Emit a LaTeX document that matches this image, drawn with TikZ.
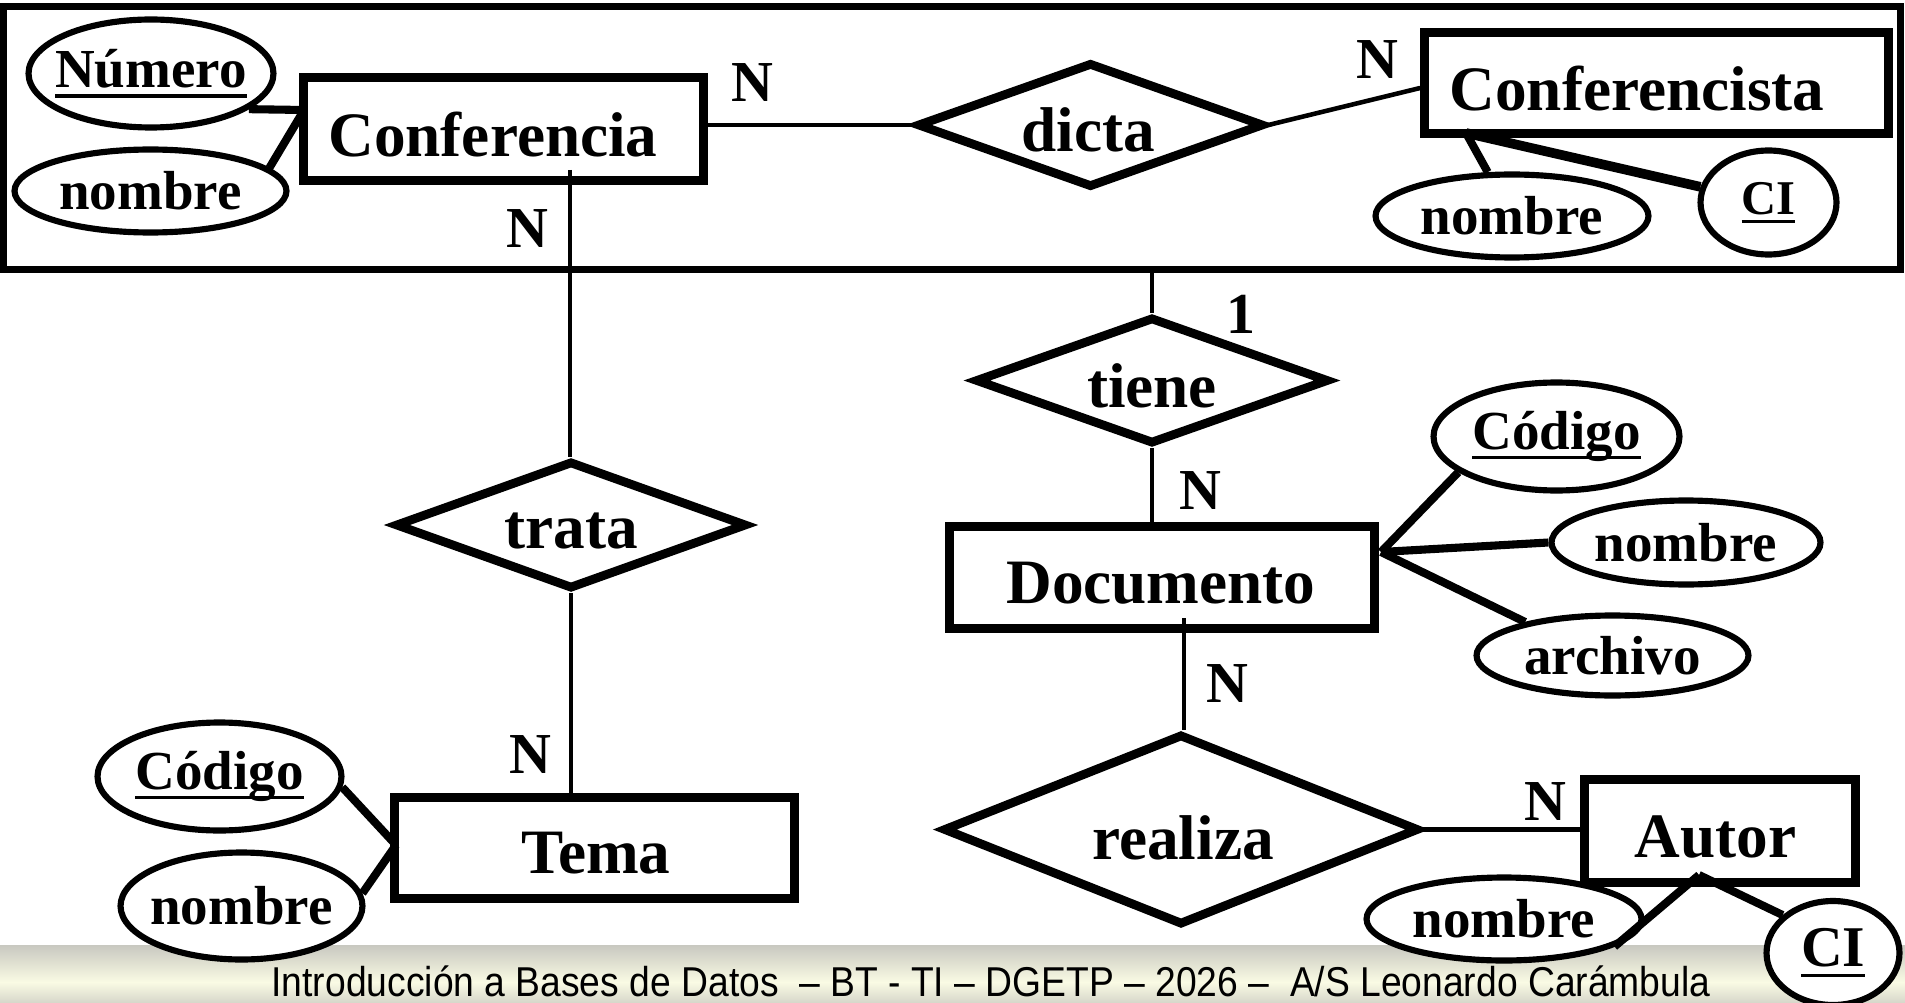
\documentclass[tikz,border=0pt]{standalone}
\usepackage{fontspec}
\usepackage{graphicx}
\setmainfont{Liberation Serif}
\newfontfamily\footfam{Liberation Sans}
\usetikzlibrary{shapes.geometric,calc}
\newcommand\entfont{\bfseries\fontsize{36}{40}\selectfont}
\newcommand\attfont{\bfseries\fontsize{31.3}{36}\selectfont}
\newcommand\lblfont{\bfseries\fontsize{33}{36}\selectfont}
\newsavebox\ulbox
\newcommand\ulx[1]{\sbox\ulbox{#1}\rlap{\rule[-0.18em]{\wd\ulbox}{0.06em}}\usebox\ulbox}
\newcommand\ZW[1]{\makebox[0pt][c]{#1}}
\definecolor{bandA}{RGB}{200,200,192}
\definecolor{bandB}{RGB}{250,251,228}
\definecolor{bandC}{RGB}{214,214,202}
\tikzset{
  ent/.style={draw, rectangle, line width=5pt, inner sep=0pt, fill=white},
  rel/.style={draw, diamond, line width=5pt, inner sep=0pt, fill=white},
  att/.style={draw, ellipse, line width=3.5pt, inner sep=0pt, fill=white, font=\attfont},
  etxt/.style={font=\entfont, inner sep=0pt},
  lbl/.style={font=\lblfont, inner sep=0pt},
  rline/.style={line width=2.6pt},
  aline/.style={line width=4.6pt},
}
\begin{document}
\begin{tikzpicture}[x=0.02cm, y=-0.02cm]
\useasboundingbox (0,0) rectangle (1905,1003);
\clip (0,0) rectangle (1905,1003);
% footer band
\shade[top color=bandA, bottom color=bandB] (0,945) rectangle (1905,982.5);
\shade[top color=bandB, bottom color=bandC] (0,982) rectangle (1905,1003);
\node[font=\footfam\fontsize{21.2}{24}\selectfont, anchor=base, inner sep=0pt] (foot) at (991,996)
  {\scalebox{1}[1.12]{Introducción a Bases de Datos\ \ – BT - TI – DGETP – 2026 –\ \ A/S Leonardo Carámbula}};

% aggregation box
\node[draw, line width=4pt, minimum width=37.94cm, minimum height=5.27cm, inner sep=0pt] (agg) at (952,138.25) {};

% entities
\node[ent, minimum width=8.0cm, minimum height=2.06cm] (conf) at (503.5,129) {};
\node[ent, minimum width=9.28cm, minimum height=2.02cm] (ce) at (1656.5,83) {};
\node[ent, minimum width=8.0cm, minimum height=2.02cm] (tema) at (594.5,848) {};
\node[ent, minimum width=8.5cm, minimum height=2.04cm] (doc) at (1162,577.5) {};
\node[ent, minimum width=5.42cm, minimum height=2.06cm] (autor) at (1720,831) {};

% relationships
\node[rel, minimum width=6.94cm, minimum height=2.5cm] (dicta) at (1090.5,125) {};
\node[rel, minimum width=7.08cm, minimum height=2.54cm] (tiene) at (1152,380.5) {};
\node[rel, minimum width=7.04cm, minimum height=2.56cm] (trata) at (571,525) {};
\node[rel, minimum width=9.52cm, minimum height=3.82cm] (realiza) at (1181,829.5) {};

% attributes
\node[att, minimum width=4.9cm, minimum height=2.16cm] (numero) at (151,73.5) {\ZW{\ulx{Número}}};
\node[att, minimum width=5.44cm, minimum height=1.66cm] (nombreA) at (150.5,191) {\ZW{nombre}};
\node[att, minimum width=5.46cm, minimum height=1.66cm] (nombreB) at (1512,216) {\ZW{nombre}};
\node[att, minimum width=2.72cm, minimum height=2.08cm, font=\bfseries\fontsize{27.6}{30}\selectfont] (ciA) at (1768.5,202.5) {\ZW{\ulx{CI}}};
\node[att, minimum width=4.88cm, minimum height=2.16cm] (codA) at (219.5,776.5) {\ZW{\ulx{Código}}};
\node[att, minimum width=4.84cm, minimum height=2.14cm] (nombreD) at (241.5,906) {\ZW{nombre}};
\node[att, minimum width=4.92cm, minimum height=2.16cm] (codB) at (1556.5,436.5) {\ZW{\ulx{Código}}};
\node[att, minimum width=5.38cm, minimum height=1.68cm] (nombreC) at (1686,542.5) {\ZW{nombre}};
\node[att, minimum width=5.44cm, minimum height=1.6cm] (archivo) at (1612.5,655.5) {\ZW{archivo}};
\node[att, minimum width=5.5cm, minimum height=1.66cm] (nombreE) at (1504,919) {\ZW{nombre}};
\node[att, minimum width=2.66cm, minimum height=2.08cm, font=\bfseries\fontsize{32.8}{36}\selectfont] (ciB) at (1833,953) {\ZW{\ulx{CI}}};

% connection points
\coordinate (cL) at (304,110);
\coordinate (ceB) at (1466,133);
\coordinate (c1) at (570,170);
\coordinate (tL) at (396,845);
\coordinate (dR) at (1381,552);
\coordinate (d1) at (1184,618);
\coordinate (aB) at (1699,875);

% relationship lines
\draw[rline] (dicta.west) -- (dicta.west -| conf.east);
\draw[rline] (dicta.east) -- ($(ce.west)+(0,5)$);
\draw[rline] (c1) -- (c1 |- trata.north);
\draw[rline] (trata.south) -- (trata.south |- tema.north);
\draw[rline] (tiene.north) -- (tiene.north |- agg.south);
\draw[rline] (tiene.south) -- (tiene.south |- doc.north);
\draw[rline] (d1) -- (d1 |- realiza.north);
\draw[rline] (realiza.east) -- (realiza.east -| autor.west);

% attribute lines
\draw[aline] (numero.-20) -- (cL);
\draw[aline] (nombreA.11) -- (cL);
\draw[aline] (ceB) -- (nombreB);
\draw[aline, line width=5.5pt] (ceB) -- (ciA);
\draw[aline] (codA.-5) -- (tL);
\draw[aline] (nombreD.6) -- (tL);
\draw[aline] (dR) -- (codB.200);
\draw[aline] (dR) -- (nombreC.west);
\draw[aline] (dR) -- (archivo.159);
\draw[aline] (aB) -- (nombreE.-14);
\draw[aline] (aB) -- (ciB.143);

% entity and relationship texts
\node[etxt] (confT) at (493,135) {Conferencia};
\node[etxt] (ceT) at (1637,88.5) {Conferencista};
\node[etxt] (docT) at (1161,583) {Documento};
\node[etxt] (temaT) at (596,853.5) {Tema};
\node[etxt] (autorT) at (1715.5,836.5) {Autor};
\node[etxt] (dictaT) at (1088,130) {dicta};
\node[etxt] (tieneT) at (1152,386) {tiene};
\node[etxt] (trataT) at (571,531) {trata};
\node[etxt] (realizaT) at (1183,838) {realiza};

% cardinalities
\node[lbl] (n1) at (752,83) {N};
\node[lbl] (n2) at (1377,60) {N};
\node[lbl] (n3) at (527,229) {N};
\node[lbl] (one) at (1241,314) {1};
\node[lbl] (n4) at (530,755) {N};
\node[lbl] (n5) at (1200,491) {N};
\node[lbl] (n6) at (1227,684) {N};
\node[lbl] (n7) at (1545,802) {N};
\end{tikzpicture}
\end{document}
